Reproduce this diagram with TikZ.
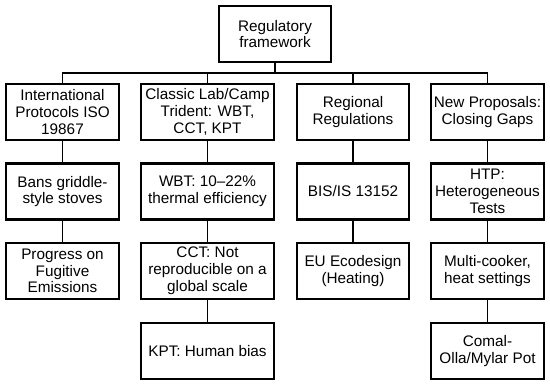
\documentclass[tikz,border=0pt]{standalone}
\usepackage{fontspec}
\setmainfont{Liberation Sans}
\begin{document}
\begin{tikzpicture}[x=1pt,y=-1pt,
  box/.style={draw=black, line width=2.2pt, rectangle, align=center, inner sep=1pt,
    minimum height=56pt, font=\fontsize{15.3}{16.8}\selectfont},
  w1/.style={box, minimum width=113pt},
  w2/.style={box, minimum width=133pt},
  w3/.style={box, minimum width=112pt},
  w4/.style={box, minimum width=113pt},
  conn/.style={draw=black, line width=1.8pt}]
\useasboundingbox (0,0) rectangle (550,385);
\node[w3] (top) at (275,34) {Regulatory\\framework};
% row 1
\node[w1] (a1) at (62.5,112) {International\\Protocols ISO\\19867};
\node[w2] (b1) at (207.5,112) {Classic Lab/Camp\\Trident: WBT,\\CCT, KPT};
\node[w3] (c1) at (353,112) {Regional\\Regulations};
\node[w4] (d1) at (487.5,112) {New Proposals:\\Closing Gaps};
% row 2
\node[w1] (a2) at (62.5,191.5) {Bans griddle-\\style stoves};
\node[w2] (b2) at (207.5,191.5) {WBT: 10–22\%\\thermal efficiency};
\node[w3] (c2) at (353,191.5) {BIS/IS 13152};
\node[w4] (d2) at (487.5,191.5) {HTP:\\Heterogeneous\\Tests};
% row 3
\node[w1] (a3) at (62.5,271) {Progress on\\Fugitive\\Emissions};
\node[w2] (b3) at (207.5,271) {CCT: Not\\reproducible on a\\global scale};
\node[w3] (c3) at (353,271) {EU Ecodesign\\(Heating)};
\node[w4] (d3) at (487.5,271) {Multi-cooker,\\heat settings};
% row 4
\node[w2] (b4) at (207.5,351) {KPT: Human bias};
\node[w4] (d4) at (487.5,351) {Comal-\\Olla/Mylar Pot};
% connectors
\coordinate (bus) at (275,73);
\draw[conn] (top.south) -- (bus);
\draw[conn] (a1.north) |- (bus);
\draw[conn] (b1.north) |- (bus);
\draw[conn] (c1.north) |- (bus);
\draw[conn] (d1.north) |- (bus);
\draw[conn] (a1) -- (a2);
\draw[conn] (a2) -- (a3);
\draw[conn] (b1) -- (b2);
\draw[conn] (b2) -- (b3);
\draw[conn] (b3) -- (b4);
\draw[conn] (c1) -- (c2);
\draw[conn] (c2) -- (c3);
\draw[conn] (d1) -- (d2);
\draw[conn] (d2) -- (d3);
\draw[conn] (d3) -- (d4);
\end{tikzpicture}
\end{document}
